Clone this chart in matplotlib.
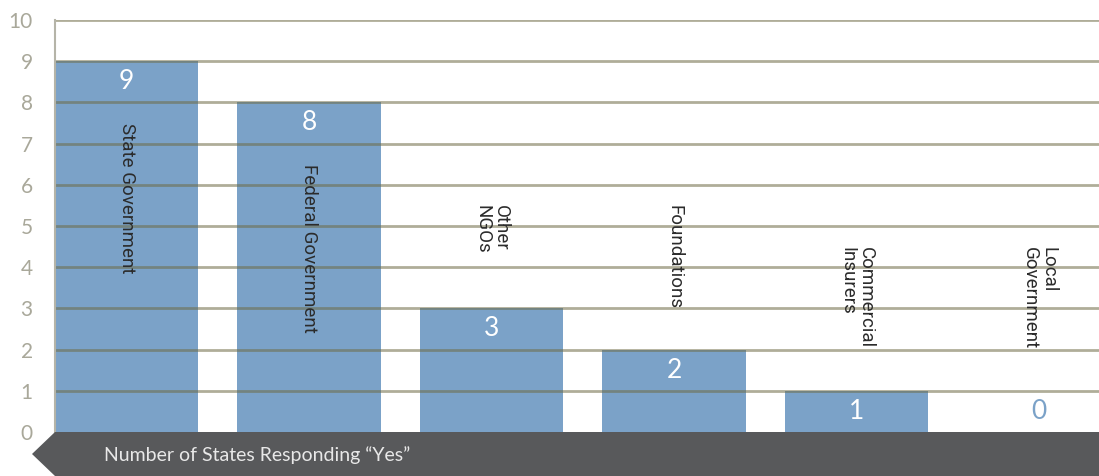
import matplotlib
matplotlib.use("Agg")
import matplotlib.pyplot as plt
from matplotlib.patches import Polygon

# funding sources and number of states answering "yes"
categories = ["State Government", "Federal Government", "Other\nNGOs",
              "Foundations", "Commercial\nInsurers", "Local\nGovernment"]
counts = [9, 8, 3, 2, 1, 0]
yticks = list(range(0, 11))
band_text = "Number of States Responding \u201cYes\u201d"

# where the top of each rotated category label sits (in data units)
label_top = [7.5, 6.5, 5.5, 5.5, 4.5, 4.5]

BAR = "#7ba2c8"
GRID = "#6e6b45"
BAND = "#58595b"
TICK = "#a9a89a"

W, H = 1099, 476
fig = plt.figure(figsize=(W / 100, H / 100), dpi=100)
ax = fig.add_axes([55 / W, 1 - 432 / H, 1 - 55 / W, (432 - 20) / H])

x = list(range(len(categories)))
width = 0.784
ax.bar(x, counts, width=width, color=BAR, zorder=1)

# horizontal rules drawn over the bars
for v in yticks[1:]:
    ax.axhline(v, color=GRID, alpha=0.55, lw=2, zorder=2)

for i, (v, name) in enumerate(zip(counts, categories)):
    if v > 0:
        ax.text(i, v - 0.5, str(v), ha="center", va="center", color="white",
                fontsize=19, family="Lato", zorder=3)
    else:
        ax.text(i, 0.5, str(v), ha="center", va="center", color=BAR,
                fontsize=19, family="Lato", zorder=3)
    ax.text(i, label_top[i], name, rotation=-90, ha="center", va="top",
            multialignment="left", color="#2b2b2b", fontsize=13.5,
            family="Roboto", linespacing=1.0, zorder=3)

ax.set_xlim(-width / 2, (W - 126.5) / 182.5)
ax.set_ylim(0, 10)
ax.set_yticks(yticks)
ax.set_xticks([])
ax.tick_params(axis="y", length=0, pad=16, labelsize=15, labelcolor=TICK)
for lab in ax.get_yticklabels():
    lab.set_family("Lato")

for side in ["top", "right", "bottom"]:
    ax.spines[side].set_visible(False)
ax.spines["left"].set_color("#b5b4a8")
ax.spines["left"].set_linewidth(1.5)
ax.spines["left"].set_zorder(4)

# dark arrow band along the bottom
pts = [(32, 454), (55, 432), (W, 432), (W, H), (55, H)]
fig.patches.append(Polygon([(px / W, 1 - py / H) for px, py in pts],
                           closed=True, transform=fig.transFigure,
                           facecolor=BAND, edgecolor="none"))
fig.text(104 / W, 1 - 455 / H, band_text, ha="left", va="center",
         color="#e8e8e8", fontsize=14, family="Lato")

fig.savefig("out.png", dpi=100)
